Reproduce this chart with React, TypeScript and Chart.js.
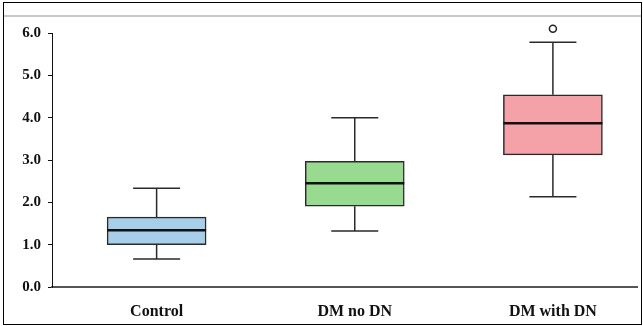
import React, { useEffect, useRef } from "react";
import { Chart, registerables } from "chart.js";

Chart.register(...registerables);

const categories = ["Control", "DM no DN", "DM with DN"];
const positions = [1, 2, 3];
const whiskerLow = [0.66, 1.32, 2.13];
const q1 = [1.0, 1.91, 3.12];
const medians = [1.34, 2.45, 3.87];
const q3 = [1.65, 2.97, 4.54];
const whiskerHigh = [2.33, 4.0, 5.78];
const outliers = [{ x: 3, y: 6.1 }];
const boxColors = ["#a8cfea", "#98da8f", "#f4a1a7"];
const yTicks = [0, 1, 2, 3, 4, 5, 6];

const whiskerPlugin = {
  id: "whiskers",
  afterDatasetsDraw(chart: any) {
    const { ctx } = chart;
    const xs = chart.scales.x;
    const ys = chart.scales.y;
    const meta = chart.getDatasetMeta(0);
    ctx.save();
    positions.forEach((p, i) => {
      const x = xs.getPixelForValue(p);
      const el = meta.data[i];
      const half = el ? el.width / 2 : 49;
      const capHalf = 23.5;
      ctx.strokeStyle = "#2a2a2a";
      ctx.lineWidth = 1.5;
      ctx.beginPath();
      ctx.moveTo(x, ys.getPixelForValue(q3[i]));
      ctx.lineTo(x, ys.getPixelForValue(whiskerHigh[i]));
      ctx.moveTo(x, ys.getPixelForValue(q1[i]));
      ctx.lineTo(x, ys.getPixelForValue(whiskerLow[i]));
      ctx.moveTo(x - capHalf, ys.getPixelForValue(whiskerHigh[i]));
      ctx.lineTo(x + capHalf, ys.getPixelForValue(whiskerHigh[i]));
      ctx.moveTo(x - capHalf, ys.getPixelForValue(whiskerLow[i]));
      ctx.lineTo(x + capHalf, ys.getPixelForValue(whiskerLow[i]));
      ctx.stroke();
      ctx.strokeStyle = "#111";
      ctx.lineWidth = 2.5;
      ctx.beginPath();
      const ym = ys.getPixelForValue(medians[i]);
      ctx.moveTo(x - half, ym);
      ctx.lineTo(x + half, ym);
      ctx.stroke();
    });
    ctx.restore();
  },
};

export default function App() {
  const ref = useRef<HTMLCanvasElement>(null);
  useEffect(() => {
    if (!ref.current) return;
    const chart = new Chart(ref.current, {
      type: "bar",
      data: {
        datasets: [
          {
            type: "bar",
            data: positions.map((p, i) => ({ x: p, y: [q1[i], q3[i]] })) as any,
            backgroundColor: boxColors,
            borderColor: "#2a2a2a",
            borderWidth: 1.5,
            borderSkipped: false,
            barThickness: 99,
            grouped: false,
          } as any,
          {
            type: "scatter",
            data: outliers as any,
            pointRadius: 3.5,
            pointBackgroundColor: "#ffffff",
            pointBorderColor: "#222",
            pointBorderWidth: 1.5,
            clip: false,
          } as any,
        ],
      },
      options: {
        responsive: false,
        animation: false,
        layout: { padding: { left: 0, top: 33, right: 3, bottom: 0 } },
        plugins: { legend: { display: false }, tooltip: { enabled: false } },
        scales: {
          x: {
            type: "linear",
            offset: false,
            min: 0.472,
            max: 3.427,
            grid: { display: false, offset: false },
            border: { display: true, color: "#555", width: 2 },
            afterBuildTicks: (s: any) => {
              s.ticks = positions.map((v) => ({ value: v }));
            },
            afterFit: (s: any) => {
              s.height = 39;
            },
            ticks: {
              autoSkip: false,
              maxRotation: 0,
              padding: 7,
              color: "#111",
              font: { family: "'Liberation Serif', 'Times New Roman', serif", size: 16, weight: "bold" },
              callback: (v: any) => categories[Number(v) - 1] ?? "",
            },
          },
          y: {
            min: 0,
            max: 6,
            afterBuildTicks: (s: any) => {
              s.ticks = yTicks.map((v) => ({ value: v }));
            },
            afterFit: (s: any) => {
              s.width = 52;
            },
            grid: { drawOnChartArea: false, drawTicks: true, tickLength: 4, color: "#111", lineWidth: 1 },
            border: { display: true, color: "#111", width: 1 },
            ticks: {
              padding: 7,
              color: "#111",
              font: { family: "'Liberation Serif', 'Times New Roman', serif", size: 15, weight: "bold" },
              callback: (v: any) => Number(v).toFixed(1),
            },
          },
        },
      },
      plugins: [whiskerPlugin],
    });
    return () => chart.destroy();
  }, []);
  return (
    <div style={{ position: "absolute", left: 0, top: 0, width: 643, height: 326, background: "#fff" }}>
      <canvas ref={ref} width={643} height={326} style={{ display: "block", width: 643, height: 326 }} />
      <div style={{ position: "absolute", left: 4, top: 15, width: 638, height: 2, background: "#c8c8c8" }} />
      <div
        style={{
          position: "absolute",
          left: 3,
          top: 2,
          width: 639,
          height: 323,
          boxSizing: "border-box",
          border: "1px solid #000",
          pointerEvents: "none",
        }}
      />
    </div>
  );
}
